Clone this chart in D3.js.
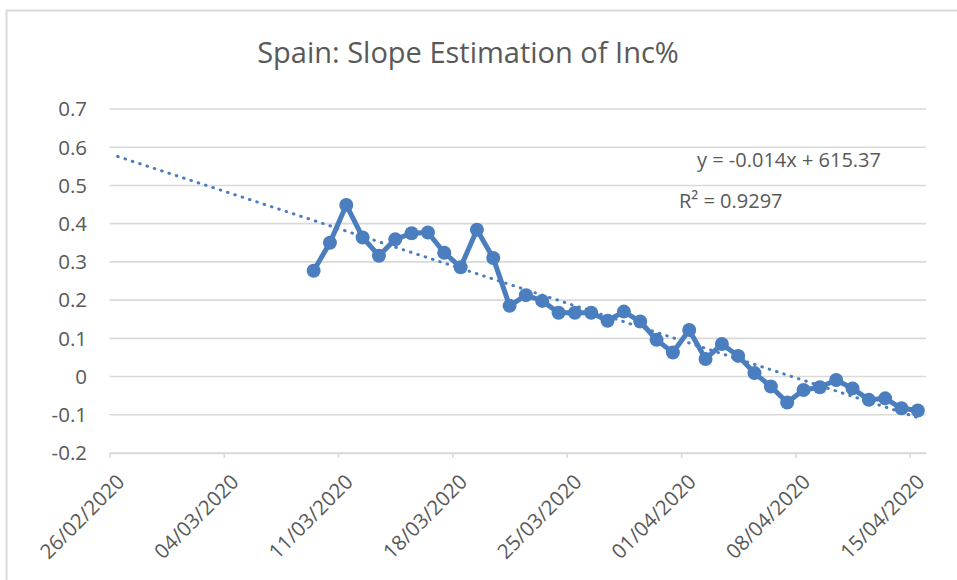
<!DOCTYPE html>
<html>
<head>
<meta charset="utf-8">
<script src="https://cdn.jsdelivr.net/npm/d3@7"></script>
<style>
  body { margin: 0; background: #fff; }
  svg { display: block; }
  text { font-family: "Open Sans", sans-serif; fill: #595959; }
</style>
</head>
<body>
<svg id="chart" width="957" height="580"></svg>
<script>
// Daily slope estimate of the incidence percentage, Spain
const chartTitle = "Spain: Slope Estimation of Inc%";
const dates = [
  "2020-03-09","2020-03-10","2020-03-11","2020-03-12","2020-03-13","2020-03-14",
  "2020-03-15","2020-03-16","2020-03-17","2020-03-18","2020-03-19","2020-03-20",
  "2020-03-21","2020-03-22","2020-03-23","2020-03-24","2020-03-25","2020-03-26",
  "2020-03-27","2020-03-28","2020-03-29","2020-03-30","2020-03-31","2020-04-01",
  "2020-04-02","2020-04-03","2020-04-04","2020-04-05","2020-04-06","2020-04-07",
  "2020-04-08","2020-04-09","2020-04-10","2020-04-11","2020-04-12","2020-04-13",
  "2020-04-14","2020-04-15"
];
const incSlope = [
  0.277, 0.350, 0.449, 0.364, 0.316, 0.359,
  0.375, 0.377, 0.324, 0.286, 0.384, 0.310,
  0.185, 0.213, 0.198, 0.167, 0.167, 0.167,
  0.146, 0.170, 0.144, 0.096, 0.063, 0.122,
  0.046, 0.085, 0.054, 0.009, -0.026, -0.068,
  -0.035, -0.028, -0.009, -0.031, -0.061, -0.057,
  -0.083, -0.089
];
const xTickDates = [
  "2020-02-26","2020-03-04","2020-03-11","2020-03-18",
  "2020-03-25","2020-04-01","2020-04-08","2020-04-15"
];
const xDomainDates = ["2020-02-26", "2020-04-16"];
const yTickValues = [-0.2, -0.1, 0, 0.1, 0.2, 0.3, 0.4, 0.5, 0.6, 0.7];
const trendEquation = "y = -0.014x + 615.37";
const trendR2 = "R² = 0.9297";
const trendBackwardDays = 12;

const parse = d3.utcParse("%Y-%m-%d");
const fmtDate = d3.utcFormat("%d/%m/%Y");
const fmtNum = v => String(Math.round(v * 10) / 10);
// points sit in the middle of their day slot
const midDay = s => d3.utcHour.offset(parse(s), 12);

const svg = d3.select("#chart");
const W = 957, H = 580;
svg.append("rect").attr("width", W).attr("height", H).attr("fill", "#fff");

// chart area frame
svg.append("rect")
  .attr("x", 6.5).attr("y", 10.5)
  .attr("width", 1000).attr("height", 1000)
  .attr("fill", "none").attr("stroke", "#d9d9d9").attr("stroke-width", 2);

const x = d3.scaleUtc()
  .domain(xDomainDates.map(parse))
  .range([109.5, 926]);
const y = d3.scaleLinear()
  .domain([d3.min(yTickValues), d3.max(yTickValues)])
  .range([453, 109]);

// title
svg.append("text")
  .attr("x", 468).attr("y", 63)
  .attr("text-anchor", "middle")
  .style("font-size", "29px")
  .text(chartTitle);

// horizontal gridlines
svg.append("g")
  .selectAll("line")
  .data(yTickValues)
  .join("line")
  .attr("x1", x.range()[0]).attr("x2", x.range()[1])
  .attr("y1", d => y(d)).attr("y2", d => y(d))
  .attr("stroke", "#d9d9d9").attr("stroke-width", 1.6);

// y tick labels
svg.append("g")
  .selectAll("text")
  .data(yTickValues)
  .join("text")
  .attr("x", 87).attr("y", d => y(d))
  .attr("dy", "0.36em")
  .attr("text-anchor", "end")
  .style("font-size", "20.5px")
  .text(fmtNum);

// x axis with weekly tick marks
const xTicks = xTickDates.map(parse);
const xAxis = d3.axisBottom(x)
  .tickValues(xTicks)
  .tickSize(5)
  .tickSizeOuter(0)
  .tickFormat("");
const gx = svg.append("g")
  .attr("transform", `translate(0,${y(d3.min(yTickValues))})`)
  .call(xAxis);
gx.select(".domain").attr("stroke", "#d9d9d9").attr("stroke-width", 1.6);
gx.selectAll(".tick line").attr("stroke", "#d9d9d9").attr("stroke-width", 1.6);

// rotated date labels
svg.append("g")
  .selectAll("text")
  .data(xTicks)
  .join("text")
  .attr("transform", d => `translate(${x(d) + 11},${478}) rotate(-45)`)
  .attr("dy", "0.36em")
  .attr("text-anchor", "end")
  .style("font-size", "20.5px")
  .text(fmtDate);

// series
const pts = dates.map((d, i) => ({ t: midDay(d), v: incSlope[i] }));
const color = "#4a7ebf";

// least-squares linear trend, in days
const day0 = parse(xDomainDates[0]);
const dayOf = t => (t - day0) / 864e5;
const xs = pts.map(p => dayOf(p.t)), ys = pts.map(p => p.v);
const mx = d3.mean(xs), my = d3.mean(ys);
const slope = d3.sum(xs.map((xi, i) => (xi - mx) * (ys[i] - my))) /
              d3.sum(xs.map(xi => (xi - mx) ** 2));
const intercept = my - slope * mx;
const tStart = d3.utcDay.offset(pts[0].t, -trendBackwardDays);
const tEnd = pts[pts.length - 1].t;
const trendPts = [tStart, tEnd].map(t => ({ t, v: intercept + slope * dayOf(t) }));

const line = d3.line().x(p => x(p.t)).y(p => y(p.v));

svg.append("path")
  .datum(pts)
  .attr("d", line)
  .attr("fill", "none")
  .attr("stroke", color)
  .attr("stroke-width", 5)
  .attr("stroke-linejoin", "round");

svg.append("g")
  .selectAll("circle")
  .data(pts)
  .join("circle")
  .attr("cx", p => x(p.t)).attr("cy", p => y(p.v))
  .attr("r", 7)
  .attr("fill", color);

svg.append("path")
  .datum(trendPts)
  .attr("d", line)
  .attr("fill", "none")
  .attr("stroke", color)
  .attr("stroke-width", 3)
  .attr("stroke-linecap", "round")
  .attr("stroke-dasharray", "0.6 7.1");

// trendline equation
svg.append("text")
  .attr("x", 789).attr("y", 160)
  .attr("dy", "0.36em")
  .attr("text-anchor", "middle")
  .style("font-size", "20px")
  .text(trendEquation);
svg.append("text")
  .attr("x", 679).attr("y", 201)
  .attr("dy", "0.36em")
  .style("font-size", "20px")
  .text(trendR2);
</script>
</body>
</html>
